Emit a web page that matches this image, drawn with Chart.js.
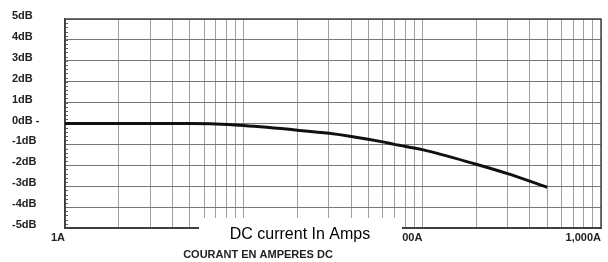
<!DOCTYPE html>
<html>
<head>
<meta charset="utf-8">
<script src="https://cdn.jsdelivr.net/npm/chart.js@4/dist/chart.umd.min.js"></script>
<style>
  body { margin: 0; background: #fff; }
  #chart { display: block; }
</style>
</head>
<body>
<canvas id="chart" width="608" height="262"></canvas>
<script>
// Data (current in amps vs. level in dB)
const currentAmps = [1, 2, 5, 7, 10, 20, 30, 40, 60, 70, 100, 200, 300, 500];
const levelDb = [0, 0, 0, -0.02, -0.1, -0.32, -0.47, -0.62, -0.88, -1.0, -1.25, -1.95, -2.4, -3.05];

// Axis labels
const yTickLabels = ["-5dB", "-4dB", "-3dB", "-2dB", "-1dB", "0dB -", "1dB", "2dB", "3dB", "4dB", "5dB"];
const decades = [1, 10, 100];
const decadeLabels = { 1: "1A", 10: "10A", 100: "100A", 1000: "1,000A" };

const xGridValues = [];
decades.forEach((d) => {
  for (let m = 1; m <= 9; m++) xGridValues.push(d * m);
});
xGridValues.push(1000);

const boldFont = { family: "'Liberation Sans', Arial, sans-serif", size: 11, weight: "bold" };

// frame, ruler ticks on the left edge, the covering label box and the bottom caption
const decorations = {
  id: "decorations",
  beforeDatasetsDraw(chart) {
    const { ctx, chartArea: a, scales } = chart;
    ctx.save();
    ctx.strokeStyle = "#666";
    ctx.lineWidth = 1;
    for (let v = -5; v <= 5.001; v += 0.2) {
      const y = Math.round(scales.y.getPixelForValue(v)) + 0.5;
      ctx.beginPath();
      ctx.moveTo(a.left, y);
      ctx.lineTo(a.left + 3, y);
      ctx.stroke();
    }
    ctx.strokeStyle = "#444";
    ctx.lineWidth = 1.5;
    ctx.strokeRect(a.left, a.top, a.right - a.left, a.bottom - a.top);
    ctx.restore();
  },
  afterDraw(chart) {
    const { ctx } = chart;
    ctx.save();
    ctx.fillStyle = "#fff";
    ctx.fillRect(199, 218, 203, 29);
    ctx.fillStyle = "#000";
    ctx.textAlign = "center";
    ctx.textBaseline = "alphabetic";
    ctx.font = "16px 'Liberation Sans', Arial, sans-serif";
    ctx.fillText("DC current In Amps", 300, 238.5);
    ctx.fillStyle = "#222";
    ctx.font = "bold 11px 'Liberation Sans', Arial, sans-serif";
    ctx.fillText("COURANT EN AMPERES DC", 258, 257.5);
    ctx.restore();
  },
};

new Chart(document.getElementById("chart"), {
  type: "line",
  data: {
    datasets: [
      {
        data: currentAmps.map((a, i) => ({ x: a, y: levelDb[i] })),
        borderColor: "#111",
        borderWidth: 3,
        pointRadius: 0,
        cubicInterpolationMode: "monotone",
        fill: false,
      },
    ],
  },
  options: {
    responsive: false,
    animation: false,
    layout: { padding: { top: 19, right: 7, left: 12, bottom: 0 } },
    plugins: { legend: { display: false }, tooltip: { enabled: false } },
    scales: {
      x: {
        type: "logarithmic",
        min: 1,
        max: 1000,
        afterBuildTicks: (scale) => {
          scale.ticks = xGridValues.map((v) => ({ value: v }));
        },
        afterFit: (scale) => {
          scale.height = 34;
        },
        grid: { color: "#a0a0a0", lineWidth: 1, drawTicks: false },
        border: { color: "#333", width: 2 },
        ticks: {
          autoSkip: false,
          maxRotation: 0,
          align: "end",
          padding: 3,
          color: "#222",
          font: boldFont,
          callback: (v) => decadeLabels[v] || "",
        },
      },
      y: {
        min: -5,
        max: 5,
        afterFit: (scale) => {
          scale.width = 53;
        },
        grid: { color: "#777", lineWidth: 1, drawTicks: false },
        border: { color: "#333", width: 1.5 },
        ticks: {
          stepSize: 1,
          crossAlign: "far",
          labelOffset: -3,
          color: "#222",
          font: boldFont,
          callback: (v, i) => yTickLabels[i],
        },
      },
    },
  },
  plugins: [decorations],
});
</script>
</body>
</html>
